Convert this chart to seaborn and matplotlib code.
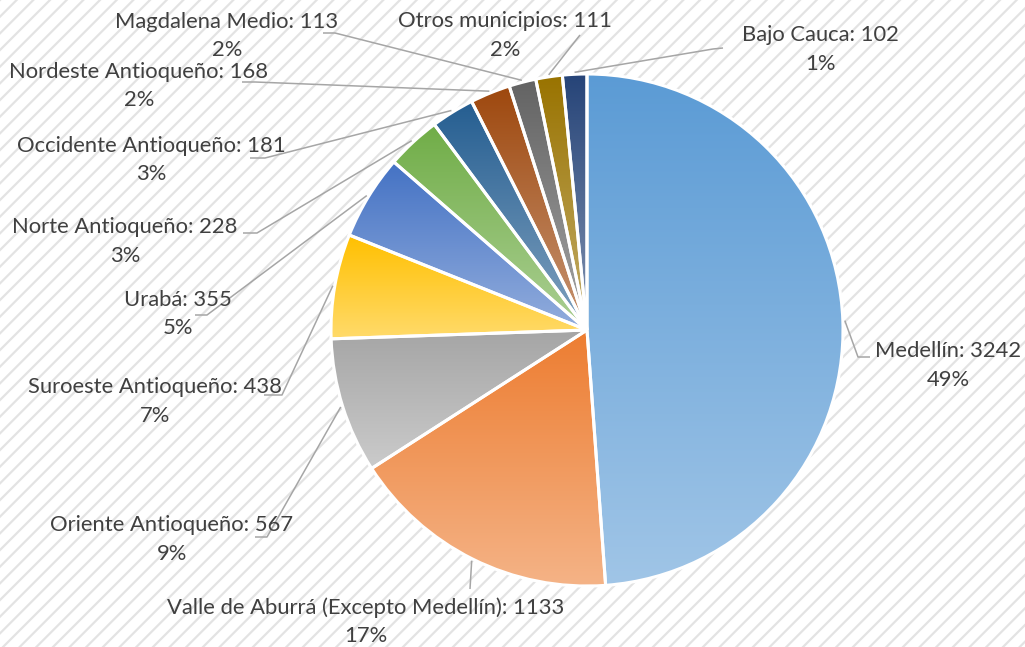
import numpy as np
import matplotlib
matplotlib.use("Agg")
import matplotlib.pyplot as plt
import matplotlib.colors as mcolors
from matplotlib.patches import Rectangle
import seaborn as sns

# ---- data ----
categories = ["Medellín", "Valle de Aburrá (Excepto Medellín)", "Oriente Antioqueño",
              "Suroeste Antioqueño", "Urabá", "Norte Antioqueño", "Occidente Antioqueño",
              "Nordeste Antioqueño", "Magdalena Medio", "Otros municipios", "Bajo Cauca"]
values = [3242, 1133, 567, 438, 355, 228, 181, 168, 113, 111, 102]
percent_labels = ["49%", "17%", "9%", "7%", "5%", "3%", "3%", "2%", "2%", "2%", "1%"]
colors = ["#5B9BD5", "#ED7D31", "#A5A5A5", "#FFC000", "#4472C4", "#70AD47",
          "#255E91", "#9E480E", "#636363", "#997300", "#264478"]

# ---- layout (pixel coordinates, y from top) ----
W, H = 1025, 647
CX, CY, R = 587, 330, 256
# label centre x, first line y
label_pos = [(948, 351), (366, 608), (172, 525), (155, 387), (178, 300), (125, 227),
             (151, 146), (139, 72), (227, 22), (505, 21), (820, 35)]
# leader line path after the slice edge point: list of (x, y)
leader_tail = [[(858, 357), (870, 357)],
               [(470, 589)],
               [(267, 537), (255, 537)],
               [(282, 395), (264, 395)],
               [(207, 315), (195, 315)],
               [(257, 233), (243, 233)],
               [(265, 158), (250, 158)],
               [(255, 82), (242, 82)],
               [(335, 33), (323, 33)],
               [(580, 35)],
               [(713, 49), (723, 48)]]

sns.set_theme(style="white")
plt.rcParams["font.family"] = ["Lato", "DejaVu Sans"]
plt.rcParams["hatch.linewidth"] = 1.6

fig = plt.figure(figsize=(W / 100, H / 100), dpi=100)
ax = fig.add_axes([0, 0, 1, 1])

# hatched background
bg = Rectangle((0, 0), 1, 1, transform=ax.transAxes, facecolor="white",
               edgecolor="#E3E3E3", hatch="//", linewidth=0, zorder=0)
ax.add_patch(bg)

wedges, _ = ax.pie(values, colors=colors, startangle=90, counterclock=False,
                   radius=R, center=(CX, H - CY),
                   wedgeprops=dict(edgecolor="white", linewidth=2.2))

ax.set_xlim(0, W)
ax.set_ylim(0, H)
ax.set_aspect("equal")
ax.axis("off")

# gradient fill per slice: base colour at top, lighter tint at bottom
for w, c in zip(wedges, colors):
    verts = w.get_patch_transform().transform(w.get_path().vertices)
    x0, x1 = verts[:, 0].min(), verts[:, 0].max()
    y0, y1 = verts[:, 1].min(), verts[:, 1].max()
    base = np.array(mcolors.to_rgb(c))
    t = np.linspace(0, 0.42, 128)[:, None]
    grad = base[None, :] * (1 - t) + t
    img = ax.imshow(grad[:, None, :], extent=(x0, x1, y0, y1), origin="upper",
                    aspect="auto", zorder=1, interpolation="bilinear")
    img.set_clip_path(w)
    w.set_facecolor("none")
    w.set_zorder(2)

txt_color = "#404040"
line_color = "#A6A6A6"
fs = 15.8
for w, cat, v, pct, (lx, ly), tail in zip(wedges, categories, values, percent_labels,
                                          label_pos, leader_tail):
    mid = np.deg2rad((w.theta1 + w.theta2) / 2)
    sx = CX + (R + 2) * np.cos(mid)
    sy = CY - (R + 2) * np.sin(mid)
    pts = [(sx, sy)] + tail
    xs = [p[0] for p in pts]
    ys = [H - p[1] for p in pts]
    ax.plot(xs, ys, color=line_color, lw=1.1, zorder=3, solid_capstyle="butt")
    ax.text(lx, H - ly, f"{cat}: {v}", ha="center", va="center",
            fontsize=fs, color=txt_color, zorder=4)
    ax.text(lx, H - ly - 28.5, pct, ha="center", va="center",
            fontsize=fs, color=txt_color, zorder=4)

fig.savefig("out.png", dpi=100)
